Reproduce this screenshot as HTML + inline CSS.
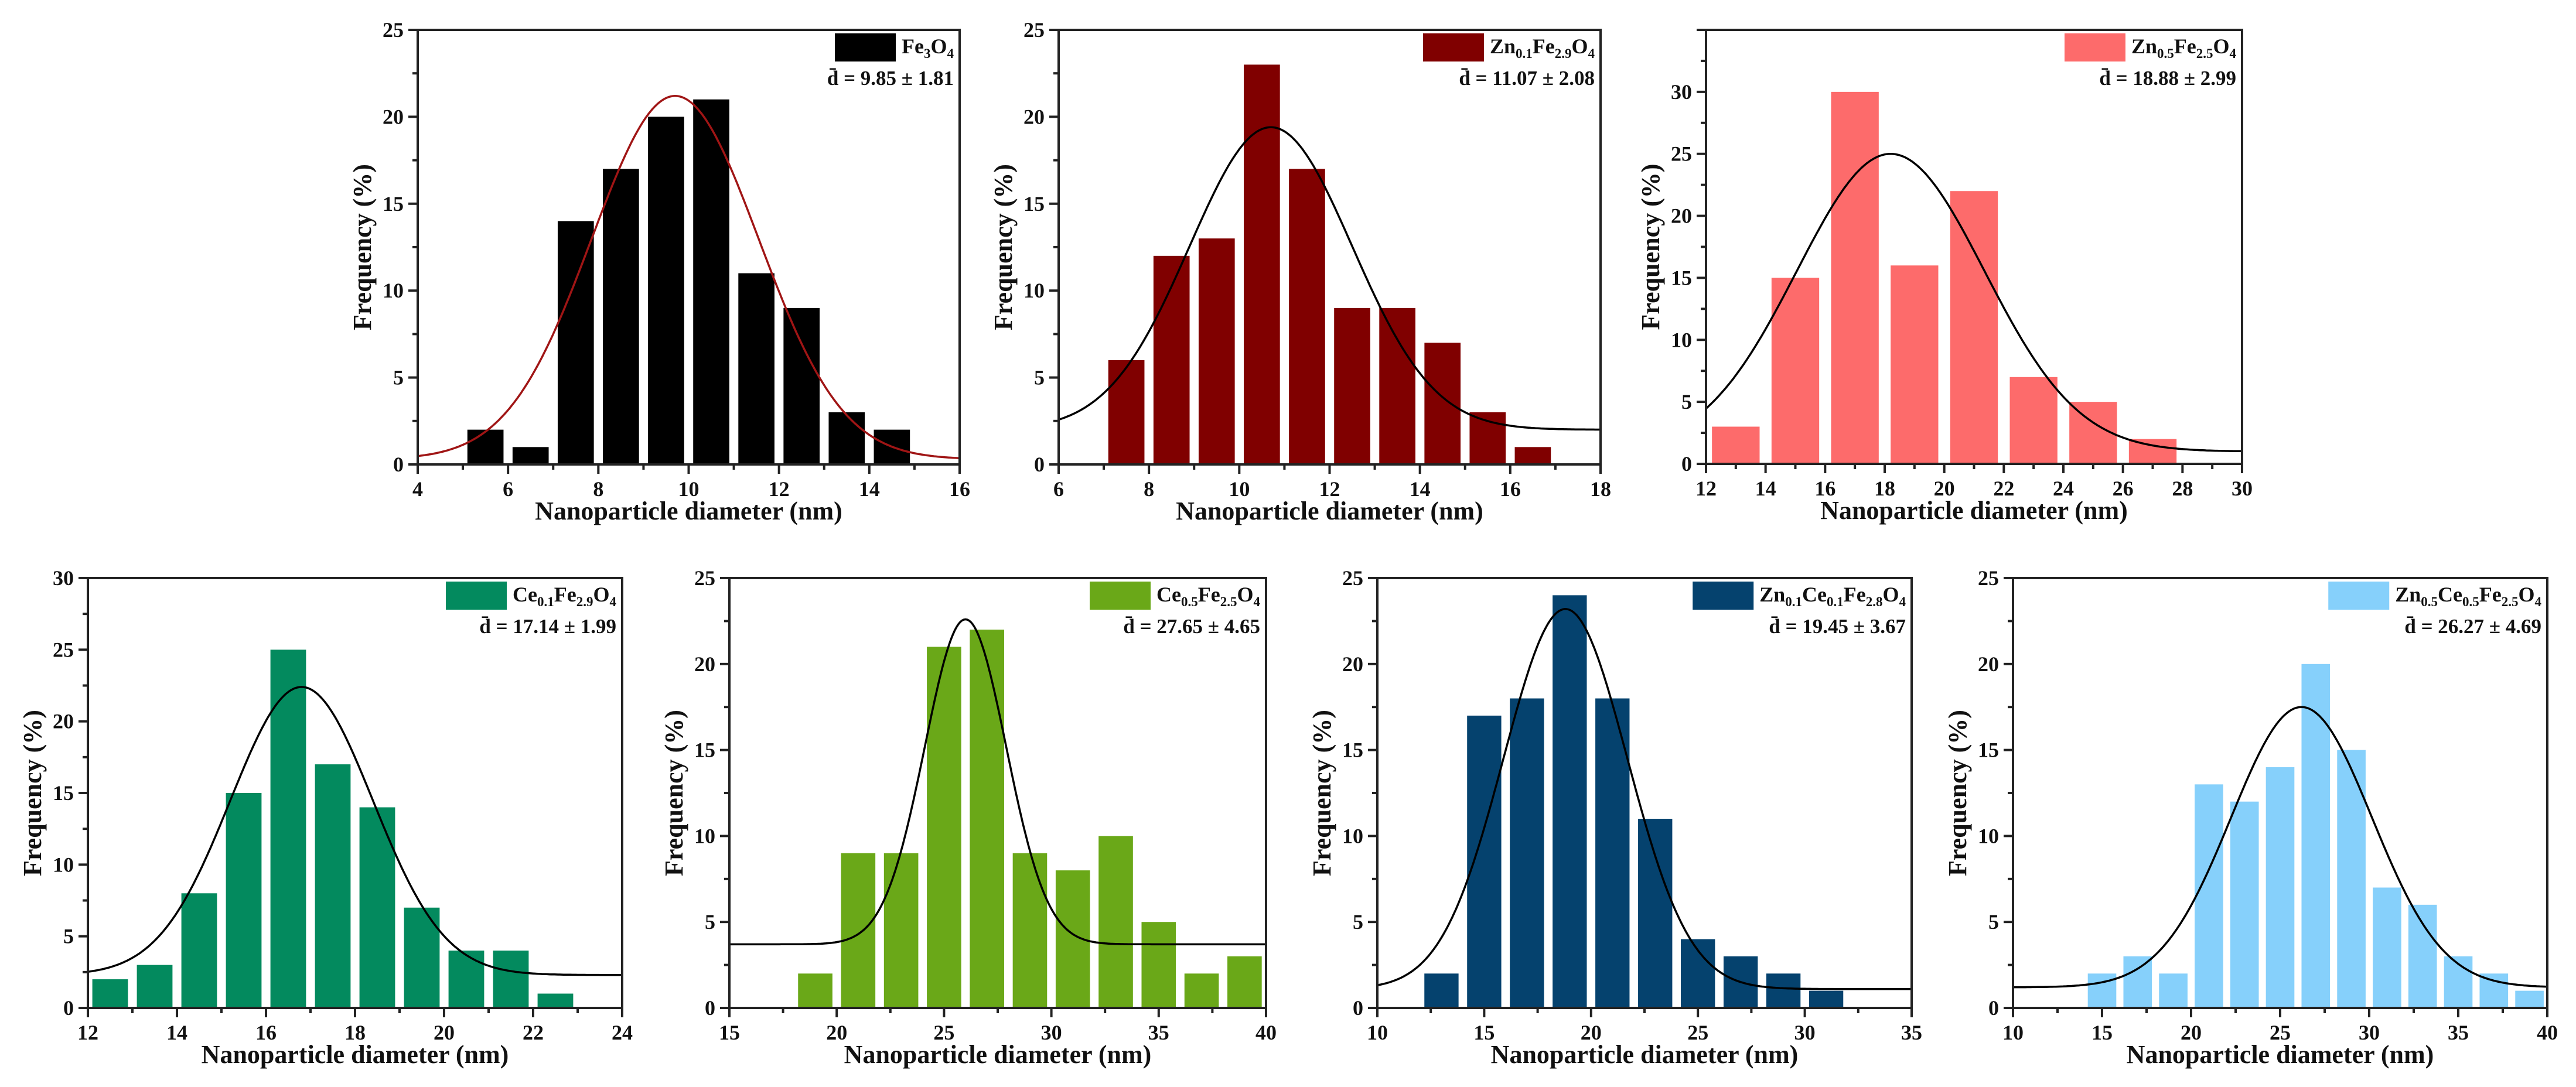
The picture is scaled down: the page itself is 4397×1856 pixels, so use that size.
<!DOCTYPE html>
<html><head><meta charset="utf-8"><style>
html,body{margin:0;padding:0;background:#fff}
svg{display:block}
text{font-family:"Liberation Serif",serif;font-weight:bold;fill:#111}
</style></head><body>
<svg id="fig" width="4397" height="1856" xmlns="http://www.w3.org/2000/svg"></svg>
<script>
// ---- data (per panel) ----
const p1Centers=[5.5,6.5,7.5,8.5,9.5,10.5,11.5,12.5,13.5,14.5];
const p1Values=[2,1,14,17,20,21,11,9,3,2];
const p2Centers=[7.5,8.5,9.5,10.5,11.5,12.5,13.5,14.5,15.5,16.5];
const p2Values=[6,12,13,23,17,9,9,7,3,1];
const p3Centers=[13,15,17,19,21,23,25,27];
const p3Values=[3,15,30,16,22,7,5,2];
const p4Centers=[12.5,13.5,14.5,15.5,16.5,17.5,18.5,19.5,20.5,21.5,22.5];
const p4Values=[2,3,8,15,25,17,14,7,4,4,1];
const p5Centers=[19,21,23,25,27,29,31,33,35,37,39];
const p5Values=[2,9,9,21,22,9,8,10,5,2,3];
const p6Centers=[13,15,17,19,21,23,25,27,29,31];
const p6Values=[2,17,18,24,18,11,4,3,2,1];
const p7Centers=[15,17,19,21,23,25,27,29,31,33,35,37,39];
const p7Values=[2,3,2,13,12,14,20,15,7,6,3,2,1];
// fitted curve params: [center, sigma, peak, baseline]
const p1Fit=[9.7,1.85,21.2,0.3];
const p2Fit=[10.7,1.8,19.4,2.0];
const p3Fit=[18.2,3.15,25,1.0];
const p4Fit=[16.8,1.6,22.4,2.3];
const p5Fit=[26.0,1.9,22.6,3.7];
const p6Fit=[18.8,2.9,23.2,1.1];
const p7Fit=[26.2,3.95,17.5,1.2];
// axis tick labels
const p1XTicks=[4,6,8,10,12,14,16];
const p2XTicks=[6,8,10,12,14,16,18];
const p3XTicks=[12,14,16,18,20,22,24,26,28,30];
const p4XTicks=[12,14,16,18,20,22,24];
const p5XTicks=[15,20,25,30,35,40];
const p6XTicks=[10,15,20,25,30,35];
const p7XTicks=[10,15,20,25,30,35,40];
const yTicks25=[0,5,10,15,20,25];
const yTicks30=[0,5,10,15,20,25,30];
const names=[
 [["Fe",0],["3",1],["O",0],["4",1]],
 [["Zn",0],["0.1",1],["Fe",0],["2.9",1],["O",0],["4",1]],
 [["Zn",0],["0.5",1],["Fe",0],["2.5",1],["O",0],["4",1]],
 [["Ce",0],["0.1",1],["Fe",0],["2.9",1],["O",0],["4",1]],
 [["Ce",0],["0.5",1],["Fe",0],["2.5",1],["O",0],["4",1]],
 [["Zn",0],["0.1",1],["Ce",0],["0.1",1],["Fe",0],["2.8",1],["O",0],["4",1]],
 [["Zn",0],["0.5",1],["Ce",0],["0.5",1],["Fe",0],["2.5",1],["O",0],["4",1]]];
const stats=["9.85 ± 1.81","11.07 ± 2.08","18.88 ± 2.99","17.14 ± 1.99","27.65 ± 4.65","19.45 ± 3.67","26.27 ± 4.69"];

const panels=[
 {L:713,T:51,R:1638,B:793,xmin:4,xmax:16,ymax:25,c:p1Centers,v:p1Values,bw:1,fit:p1Fit,xt:p1XTicks,yt:yTicks25,xminor:1,col:"#000",cc:"#a01515"},
 {L:1807,T:51,R:2732,B:793,xmin:6,xmax:18,ymax:25,c:p2Centers,v:p2Values,bw:1,fit:p2Fit,xt:p2XTicks,yt:yTicks25,xminor:1,col:"#800000",cc:"#000"},
 {L:2912,T:51,R:3827,B:792,xmin:12,xmax:30,ymax:35,c:p3Centers,v:p3Values,bw:2,fit:p3Fit,xt:p3XTicks,yt:yTicks30,xminor:1,col:"#fd6b6b",cc:"#000"},
 {L:150,T:987,R:1062,B:1721,xmin:12,xmax:24,ymax:30,c:p4Centers,v:p4Values,bw:1,fit:p4Fit,xt:p4XTicks,yt:yTicks30,xminor:1,col:"#038a5e",cc:"#000"},
 {L:1245,T:987,R:2161,B:1721,xmin:15,xmax:40,ymax:25,c:p5Centers,v:p5Values,bw:2,fit:p5Fit,xt:p5XTicks,yt:yTicks25,xminor:2.5,col:"#6aa818",cc:"#000"},
 {L:2351,T:987,R:3263,B:1721,xmin:10,xmax:35,ymax:25,c:p6Centers,v:p6Values,bw:2,fit:p6Fit,xt:p6XTicks,yt:yTicks25,xminor:2.5,col:"#05426e",cc:"#000"},
 {L:3436,T:987,R:4348,B:1721,xmin:10,xmax:40,ymax:25,c:p7Centers,v:p7Values,bw:2,fit:p7Fit,xt:p7XTicks,yt:yTicks25,xminor:2.5,col:"#86d0fb",cc:"#000"}
];
const NS="http://www.w3.org/2000/svg";
const svg=document.getElementById('fig');
function mk(tag,attrs,parent){const e=document.createElementNS(NS,tag);for(const k in attrs)e.setAttribute(k,attrs[k]);(parent||svg).appendChild(e);return e;}

panels.forEach((p,i)=>{
 const g=mk('g',{});
 
 
 const sx=x=>p.L+(x-p.xmin)/(p.xmax-p.xmin)*(p.R-p.L);
 const sy=y=>p.B-y/p.ymax*(p.B-p.T);
 p.c.forEach((c,j)=>{
  const x0=sx(c-p.bw*0.4),x1=sx(c+p.bw*0.4);
  const r=mk('rect',{x:x0,y:sy(p.v[j]),width:x1-x0,height:p.B-sy(p.v[j]),fill:p.col},g);
  
  
 });
 const [mu,s,pk,b]=p.fit;let d='';
 for(let k=0;k<=300;k++){const x=p.xmin+(p.xmax-p.xmin)*k/300;const y=b+(pk-b)*Math.exp(-((x-mu)**2)/(2*s*s));d+=(k?'L':'M')+sx(x).toFixed(1)+','+sy(y).toFixed(1);}
 const cv=mk('path',{d:d,fill:'none',stroke:p.cc,'stroke-width':3.5},g);
 
 
 const fr=mk('rect',{x:p.L,y:p.T,width:p.R-p.L,height:p.B-p.T,fill:'none',stroke:'#222','stroke-width':4},g);
 
 
 const xs=p.xt[1]-p.xt[0];
 p.xt.forEach(t=>{
  mk('line',{x1:sx(t),x2:sx(t),y1:p.B,y2:p.B+16,stroke:'#222','stroke-width':4},g);
  const tl=mk('text',{x:sx(t),y:p.B+54,'font-size':36,'text-anchor':'middle'},g);tl.textContent=t;
  
  
 });
 for(let t=p.xmin+p.xminor;t<p.xmax;t+=p.xminor){ if(Math.abs(((t-p.xmin)/xs)-Math.round((t-p.xmin)/xs))>1e-6) mk('line',{x1:sx(t),x2:sx(t),y1:p.B,y2:p.B+9,stroke:'#222','stroke-width':4},g);}
 p.yt.forEach(t=>{
  mk('line',{x1:p.L-16,x2:p.L,y1:sy(t),y2:sy(t),stroke:'#222','stroke-width':4},g);
  const tl=mk('text',{x:p.L-24,y:sy(t)+12,'font-size':36,'text-anchor':'end'},g);tl.textContent=t;
  
  
 });
 for(let t=2.5;t<p.ymax;t+=5) mk('line',{x1:p.L-9,x2:p.L,y1:sy(t),y2:sy(t),stroke:'#222','stroke-width':4},g);
 if(p.ymax>p.yt[p.yt.length-1]) mk('line',{x1:p.L-16,x2:p.L,y1:sy(p.ymax),y2:sy(p.ymax),stroke:'#222','stroke-width':4},g);
 const xt=mk('text',{x:(p.L+p.R)/2,y:p.B+94,'font-size':44,'text-anchor':'middle'},g);xt.textContent='Nanoparticle diameter (nm)';
 
 
 const cy=(p.T+p.B)/2,cx=p.L-80;
 const yt=mk('text',{x:cx,y:cy,'font-size':44,'text-anchor':'middle',transform:`rotate(-90 ${cx} ${cy})`},g);yt.textContent='Frequency (%)';
 
 
 const nm=mk('text',{x:p.R-10,y:p.T+40,'font-size':36,'text-anchor':'end','font-weight':'normal'},g);
 
 
 names[i].forEach(([s,sub])=>{const ts=mk('tspan',sub?{'font-size':23}:{},nm);ts.textContent=s;if(sub){ts.setAttribute('data-r','1');}});
 let prevSub=false;[...nm.children].forEach(ts=>{const isSub=ts.getAttribute('data-r')==='1';ts.setAttribute('dy',isSub&&!prevSub?8:(!isSub&&prevSub?-8:0));prevSub=isSub;});
 const w=nm.getComputedTextLength();
 const sw=mk('rect',{x:p.R-10-w-114,y:p.T+6,width:104,height:48,fill:p.col},g);
 
 
 const st=mk('text',{x:p.R-10,y:p.T+94,'font-size':35,'text-anchor':'end'},g);st.textContent='d\u0304 = '+stats[i];
 
 
});
</script>
</body></html>
